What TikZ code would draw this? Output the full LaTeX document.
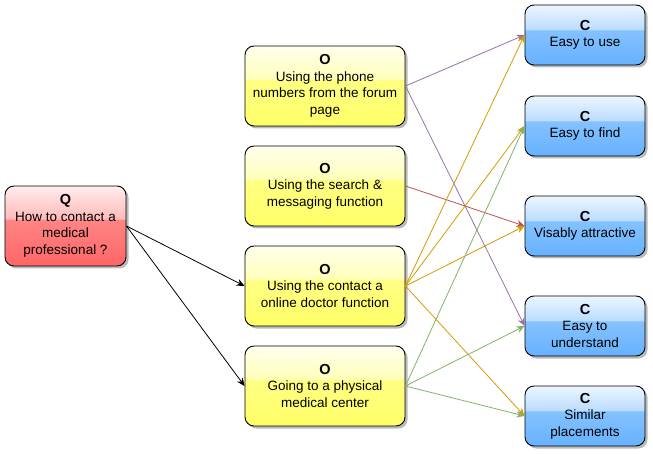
\documentclass[tikz,border=0pt]{standalone}
\usepackage{fontspec}
\setmainfont{Liberation Sans}
\usetikzlibrary{arrows.meta,shadows}
\definecolor{qred}{HTML}{FF6666}
\definecolor{oyellow}{HTML}{FFFF66}
\definecolor{cblue}{HTML}{66B2FF}
\definecolor{linkpurple}{HTML}{9673A6}
\definecolor{linkorange}{HTML}{D79B00}
\definecolor{linkgreen}{HTML}{82B366}
\definecolor{linkred}{HTML}{B85450}
\pgfdeclareverticalshading{glassq}{100bp}{color(0bp)=(qred); color(25bp)=(qred); color(54bp)=(qred!80!white); color(54.5bp)=(qred!45!white); color(75bp)=(qred!12!white); color(100bp)=(qred!12!white)}
\pgfdeclareverticalshading{glasso}{100bp}{color(0bp)=(oyellow); color(25bp)=(oyellow); color(54bp)=(oyellow!80!white); color(54.5bp)=(oyellow!45!white); color(75bp)=(oyellow!12!white); color(100bp)=(oyellow!12!white)}
\pgfdeclareverticalshading{glassc}{100bp}{color(0bp)=(cblue); color(25bp)=(cblue); color(54bp)=(cblue!80!white); color(54.5bp)=(cblue!45!white); color(75bp)=(cblue!12!white); color(100bp)=(cblue!12!white)}
\newcommand{\boxtitle}[1]{{\fontsize{14.5}{17}\selectfont\bfseries #1}}

\begin{document}
\begin{tikzpicture}[x=1pt,y=-1pt]
\path [use as bounding box] (0,0) rectangle (653,454);
\tikzstyle{box} = [draw=black, line width=0.9pt, rounded corners=9pt, align=center, inner sep=0pt, drop shadow={shadow xshift=2.5pt, shadow yshift=-2.5pt, fill=black!45, opacity=0.6}, font=\fontsize{13.5}{16.5}\selectfont]
\tikzstyle{qbox} = [box, shade, shading=glassq, minimum width=121pt, minimum height=80pt]
\tikzstyle{obox} = [box, shade, shading=glasso, minimum width=160pt, minimum height=80pt]
\tikzstyle{cbox} = [box, shade, shading=glassc, minimum width=120pt, minimum height=60pt]
\tikzstyle{link} = [line width=0.8pt, -{Stealth[length=8pt,width=7pt]}]
\node[qbox] (q) at (65.5,226) {\boxtitle{Q}\\How to contact a\\medical\\professional ?};
\node[obox] (o1) at (325,86) {\boxtitle{O}\\Using the phone\\numbers from the forum\\page};
\node[obox] (o2) at (325,186) {\boxtitle{O}\\Using the search \&\\messaging function};
\node[obox] (o3) at (325,286) {\boxtitle{O}\\Using the contact a\\online doctor function};
\node[obox] (o4) at (325,386) {\boxtitle{O}\\Going to a physical\\medical center};
\node[cbox] (c1) at (585,35) {\boxtitle{C}\\Easy to use};
\node[cbox] (c2) at (585,126) {\boxtitle{C}\\Easy to find};
\node[cbox] (c3) at (585,226) {\boxtitle{C}\\Visably attractive};
\node[cbox] (c4) at (585,326) {\boxtitle{C}\\Easy to\\understand};
\node[cbox] (c5) at (585,416) {\boxtitle{C}\\Similar\\placements};
\draw[link] (q.east) -- (o3.west);
\draw[link] (q.east) -- (o4.west);
\draw[link, linkpurple] (o1.east) -- (c1.west);
\draw[link, linkpurple] (o1.east) -- (c4.west);
\draw[link, linkred] (o2.east) -- (c3.west);
\foreach \c in {c1,c2,c3,c5}
  \draw[link, linkorange] (o3.east) -- (\c.west);
\foreach \c in {c2,c4,c5}
  \draw[link, linkgreen] (o4.east) -- (\c.west);
\end{tikzpicture}
\end{document}
